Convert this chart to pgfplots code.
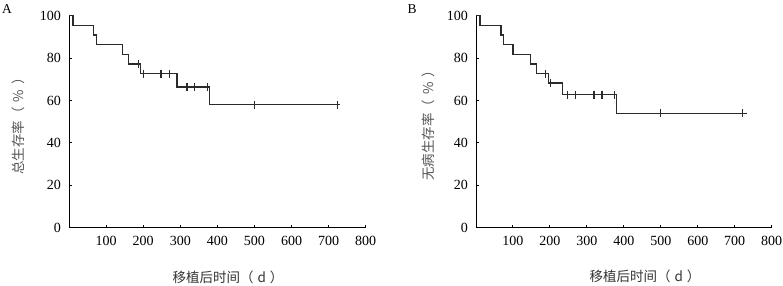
\documentclass[border=0pt]{standalone}
\usepackage{pgfplots}
\pgfplotsset{compat=1.18}
\usepackage{fontspec}
\setmainfont{Liberation Serif}
\newfontfamily\cjk{Noto Sans CJK SC}
\definecolor{curve}{HTML}{2b2b2b}
\definecolor{ylab}{HTML}{555555}
\definecolor{xlab}{HTML}{333333}
\pgfplotsset{
  kmaxis/.style={
    scale only axis,
    anchor=south west,
    xmin=0, xmax=800, ymin=0, ymax=100,
    axis x line=bottom, axis y line=left,
    axis line style={-, black, line width=1pt},
    xtick={100,200,...,800},
    ytick={0,20,...,100},
    tick align=inside,
    major tick length=3pt,
    tick style={black, line width=1pt},
    /pgf/number format/assume math mode=true,
    ticklabel style={font=\fontsize{14}{16}\selectfont},
    yticklabel style={xshift=-4.5pt},
    xticklabel style={yshift=-5pt},
    clip=false,
  },
  kmline/.style={const plot, color=curve, line width=1.3pt, mark=none},
  kmcens/.style={only marks, mark=|, mark size=4pt, color=curve, mark options={line width=1.2pt}},
}
\begin{document}
\begin{tikzpicture}
\useasboundingbox (0,0) rectangle (783pt,285pt);
% Panel A
\begin{axis}[kmaxis,
  at={(69pt,57.3pt)}, width=296.7pt, height=212pt,
  xlabel={\cjk\fontsize{13.5}{15}\selectfont 移植后时间（\hspace{4pt}d\hspace{4pt}）},
  xlabel style={at={(axis description cs:0.536,-0.2325)}, anchor=center, color=xlab},
  ylabel={\cjk\fontsize{13.5}{15}\selectfont 总生存率（\hspace{5pt}\%\hspace{5pt}）},
  ylabel style={at={(axis description cs:-0.172,0.494)}, anchor=center, color=ylab},
]
\addplot[kmline] coordinates {
(0,100) (11,95.45) (66,90.91) (75,86.36) (144,81.82) (161,77.27) (192,72.73) (291,66.4) (378,58.1) (731,58.1)
};
\addplot[kmcens] coordinates {
(187,77.27) (200,72.73) (248,72.73) (270,72.73) (318,66.4) (339,66.4) (374,66.4) (500,58.1) (723,58.1)
};
\end{axis}
% Panel B
\begin{axis}[kmaxis,
  at={(476pt,57.3pt)}, width=295.7pt, height=212pt,
  xlabel={\cjk\fontsize{13.5}{15}\selectfont 移植后时间（\hspace{4pt}d\hspace{4pt}）},
  xlabel style={at={(axis description cs:0.5715,-0.228)}, anchor=center, color=xlab},
  ylabel={\cjk\fontsize{13.5}{15}\selectfont 无病生存率（\hspace{5pt}\%\hspace{5pt}）},
  ylabel style={at={(axis description cs:-0.162,0.498)}, anchor=center, color=ylab},
]
\addplot[kmline] coordinates {
(0,100) (11,95.45) (68,90.91) (75,86.36) (100,81.82) (147,77.27) (163,72.73) (196,68.2) (234,62.8) (380,54.0) (732,54.0)
};
\addplot[kmcens] coordinates {
(187,72.73) (201,68.2) (248,62.8) (270,62.8) (319,62.8) (341,62.8) (374,62.8) (500,54.0) (721,54.0)
};
\end{axis}
\node[font=\fontsize{13.5}{15}\selectfont] at (7pt,276pt) {A};
\node[font=\fontsize{13.5}{15}\selectfont] at (412pt,276pt) {B};
\end{tikzpicture}
\end{document}
